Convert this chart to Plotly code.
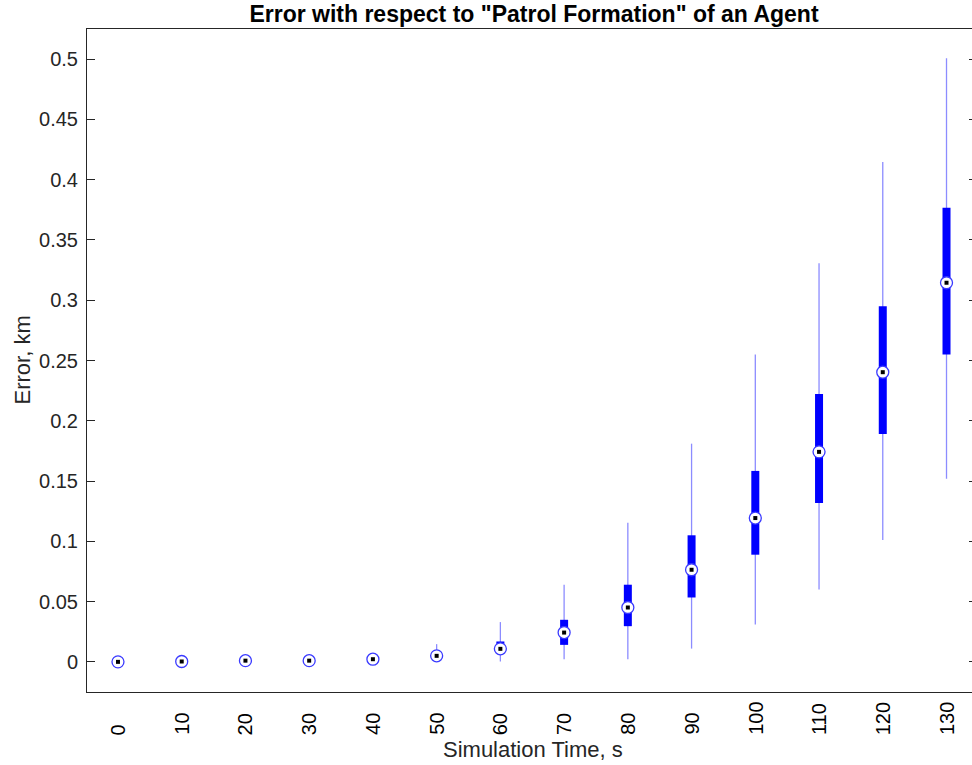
import plotly.graph_objects as go

# Simulation time (s) for each box
time_s = [0, 10, 20, 30, 40, 50, 60, 70, 80, 90, 100, 110, 120, 130]
time_labels = [str(t) for t in time_s]

# Error statistics (km) per time step
whisker_lo = [0.0, 0.0, 0.0005, 0.0005, 0.0012, 0.0015, 0.0003, 0.0022, 0.0022, 0.011, 0.031, 0.060, 0.101, 0.152]
q1 = [0.0, 0.0001, 0.0007, 0.0007, 0.0016, 0.0035, 0.007, 0.0141, 0.0296, 0.0534, 0.0889, 0.1318, 0.189, 0.255]
median = [0.0, 0.0003, 0.001, 0.001, 0.0022, 0.005, 0.0108, 0.0243, 0.0451, 0.0764, 0.1193, 0.1742, 0.2403, 0.3145]
q3 = [0.0002, 0.0006, 0.0014, 0.0014, 0.0029, 0.0068, 0.0169, 0.0349, 0.0640, 0.105, 0.1584, 0.2223, 0.2951, 0.3768]
whisker_hi = [0.0005, 0.001, 0.002, 0.002, 0.0038, 0.0147, 0.033, 0.064, 0.1155, 0.181, 0.255, 0.3306, 0.4147, 0.5008]

# Y tick labels
y_ticks = [0, 0.05, 0.1, 0.15, 0.2, 0.25, 0.3, 0.35, 0.4, 0.45, 0.5]
y_tick_text = ["0", "0.05", "0.1", "0.15", "0.2", "0.25", "0.3", "0.35", "0.4", "0.45", "0.5"]

FONT = "Liberation Sans, Arial, Helvetica, sans-serif"
AX = "#262626"


def segments(xs, lo, hi):
    sx, sy = [], []
    for x, a, b in zip(xs, lo, hi):
        sx += [x, x, None]
        sy += [a, b, None]
    return sx, sy


fig = go.Figure()

wx, wy = segments(time_s, whisker_lo, whisker_hi)
fig.add_trace(go.Scatter(x=wx, y=wy, mode="lines",
                         line=dict(color="#8c8cff", width=1.3),
                         hoverinfo="skip", showlegend=False))

bx, by = segments(time_s, q1, q3)
fig.add_trace(go.Scatter(x=bx, y=by, mode="lines",
                         line=dict(color="#0000ff", width=8),
                         hoverinfo="skip", showlegend=False))

fig.add_trace(go.Scatter(x=time_s, y=median, mode="markers",
                         marker=dict(symbol="circle", size=12, color="white",
                                     line=dict(color="#3a3aff", width=1.3)),
                         hoverinfo="skip", showlegend=False))
fig.add_trace(go.Scatter(x=time_s, y=median, mode="markers",
                         marker=dict(symbol="square", size=4, color="black",
                                     line=dict(width=0)),
                         hoverinfo="skip", showlegend=False))

# invisible trace so the right-hand tick axis is drawn
fig.add_trace(go.Scatter(x=[time_s[0]], y=[0], yaxis="y2", mode="markers",
                         marker=dict(opacity=0), hoverinfo="skip", showlegend=False))

annotations = []
for t, lab in zip(time_s, time_labels):
    annotations.append(dict(text=lab, x=t, xref="x", y=0, yref="paper",
                            xanchor="center", yanchor="bottom", yshift=-45,
                            textangle=-90, showarrow=False,
                            font=dict(family=FONT, size=20, color="black")))

annotations.append(dict(text="Simulation Time, s", x=(533 - 87) / 885, xref="paper",
                        y=0, yref="paper", yanchor="middle", xanchor="center",
                        yshift=-57, showarrow=False,
                        font=dict(family=FONT, size=22, color=AX)))
annotations.append(dict(text="Error, km", x=0, xref="paper", y=0.5, yref="paper",
                        xanchor="center", yanchor="middle", xshift=-65,
                        textangle=-90, showarrow=False,
                        font=dict(family=FONT, size=22, color=AX)))

fig.update_layout(
    width=972, height=765,
    margin=dict(l=87, r=0, t=29, b=73),
    paper_bgcolor="white", plot_bgcolor="white",
    title=dict(text="<b>Error with respect to \"Patrol Formation\" of an Agent</b>",
               x=534 / 972, xref="container", xanchor="center",
               y=1 - 14 / 765, yref="container", yanchor="middle",
               font=dict(family=FONT, size=23, color="black")),
    xaxis=dict(range=[-4.86, 134.0], showgrid=False, zeroline=False,
               showline=True, linecolor=AX, linewidth=1, mirror=True,
               ticks="", showticklabels=False),
    yaxis=dict(range=[-0.025, 0.525], showgrid=False, zeroline=False,
               showline=True, linecolor=AX, linewidth=1,
               tickmode="array", tickvals=y_ticks, ticktext=y_tick_text,
               ticks="inside", ticklen=8, tickcolor=AX, tickwidth=1,
               ticklabelstandoff=4,
               tickfont=dict(family=FONT, size=20, color=AX)),
    yaxis2=dict(range=[-0.025, 0.525], overlaying="y", side="right",
                showgrid=False, zeroline=False, showline=False,
                tickmode="array", tickvals=y_ticks, showticklabels=False,
                ticks="inside", ticklen=3, tickcolor=AX, tickwidth=1),
    annotations=annotations,
    hovermode=False,
    showlegend=False,
)

fig.write_html("out.html", config={"displayModeBar": False})
